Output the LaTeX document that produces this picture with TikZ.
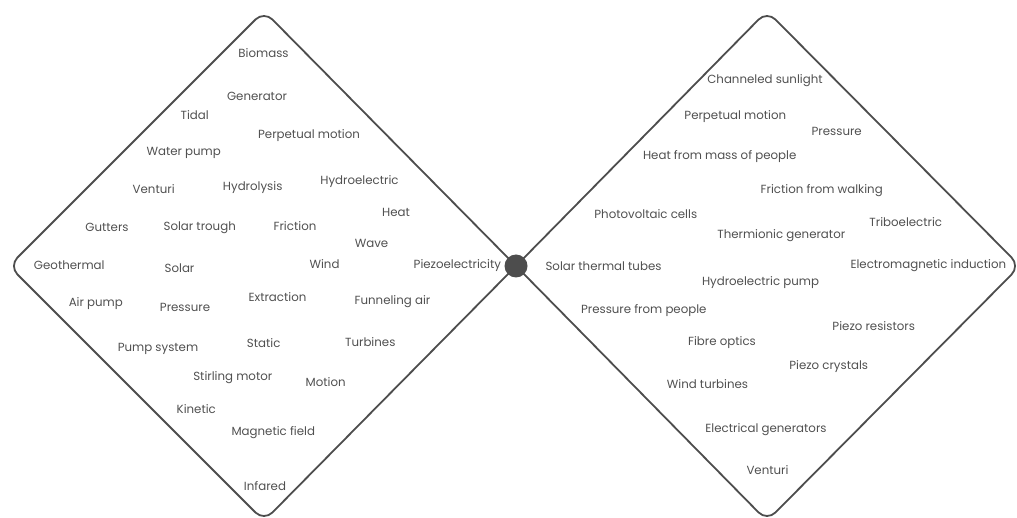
\documentclass[tikz,border=0pt]{standalone}
\usepackage{fontspec}
\setmainfont{Poppins}
\definecolor{linegray}{HTML}{4D4D4D}
\definecolor{txtgray}{HTML}{505050}
\begin{document}
\begin{tikzpicture}[x=1pt,y=-1pt,
  lbl/.style={text=txtgray,font=\fontsize{11.8}{14}\selectfont,inner sep=0pt},
  frame/.style={draw=linegray,line width=1.8pt,rounded corners=12pt,line join=round}]
\useasboundingbox (0,0) rectangle (1017,518);
\coordinate (c) at (516,266);
\coordinate (lt) at (264,11);
\coordinate (ll) at (9,266);
\coordinate (lb) at (264,521);
\coordinate (rt) at (767,11);
\coordinate (rr) at (1020,266);
\coordinate (rb) at (767,521);
\draw[frame] (c) -- (lt) -- (ll) -- (lb) -- (c);
\draw[frame] (c) -- (rt) -- (rr) -- (rb) -- (c);
\node[circle,fill=linegray,minimum size=23pt,inner sep=0pt] (hub) at (c) {};
% left diamond
\node[lbl] (a1) at (263.5,52.7) {Biomass};
\node[lbl] (a2) at (257,96) {Generator};
\node[lbl] (a3) at (194.7,115) {Tidal};
\node[lbl] (a4) at (309,136) {Perpetual motion};
\node[lbl] (a5) at (183.7,153) {Water pump};
\node[lbl] (a6) at (153.7,189) {Venturi};
\node[lbl] (a7) at (252.7,188) {Hydrolysis};
\node[lbl] (a8) at (359.5,181.7) {Hydroelectric};
\node[lbl] (a9) at (396,212.7) {Heat};
\node[lbl] (a10) at (107,227.7) {Gutters};
\node[lbl] (a11) at (199.7,227.7) {Solar trough};
\node[lbl] (a12) at (295,226) {Friction};
\node[lbl] (a13) at (371.5,243) {Wave};
\node[lbl] (a14) at (69.3,265) {Geothermal};
\node[lbl] (a15) at (179.5,268.3) {Solar};
\node[lbl] (a16) at (324.5,264.3) {Wind};
\node[lbl] (a17) at (457.3,266) {Piezoelectricity};
\node[lbl] (a18) at (95.8,304) {Air pump};
\node[lbl] (a19) at (185,307.7) {Pressure};
\node[lbl] (a20) at (277.5,297) {Extraction};
\node[lbl] (a21) at (392.5,301.7) {Funneling air};
\node[lbl] (a22) at (158,349) {Pump system};
\node[lbl] (a23) at (263.7,343.3) {Static};
\node[lbl] (a24) at (370.3,341.7) {Turbines};
\node[lbl] (a25) at (232.8,377.7) {Stirling motor};
\node[lbl] (a26) at (325.7,381.7) {Motion};
\node[lbl] (a27) at (196.3,409) {Kinetic};
\node[lbl] (a28) at (273.3,432.7) {Magnetic field};
\node[lbl] (a29) at (265,485.7) {Infared};
% right diamond
\node[lbl] (b1) at (765,81) {Channeled sunlight};
\node[lbl] (b2) at (735.3,116.7) {Perpetual motion};
\node[lbl] (b3) at (836.7,131.7) {Pressure};
\node[lbl] (b4) at (719.7,156.7) {Heat from mass of people};
\node[lbl] (b5) at (821.7,190.7) {Friction from walking};
\node[lbl] (b6) at (645.8,214.3) {Photovoltaic cells};
\node[lbl] (b7) at (905.8,222.3) {Triboelectric};
\node[lbl] (b8) at (781.3,236) {Thermionic generator};
\node[lbl] (b9) at (603.5,265.7) {Solar thermal tubes};
\node[lbl] (b10) at (928.3,265.7) {Electromagnetic induction};
\node[lbl] (b11) at (760.5,282.3) {Hydroelectric pump};
\node[lbl] (b12) at (643.8,311) {Pressure from people};
\node[lbl] (b13) at (873.7,326) {Piezo resistors};
\node[lbl] (b14) at (722,342.7) {Fibre optics};
\node[lbl] (b15) at (828.7,366.7) {Piezo crystals};
\node[lbl] (b16) at (707.5,384.3) {Wind turbines};
\node[lbl] (b17) at (766,429.3) {Electrical generators};
\node[lbl] (b18) at (767.5,470) {Venturi};
\end{tikzpicture}
\end{document}
